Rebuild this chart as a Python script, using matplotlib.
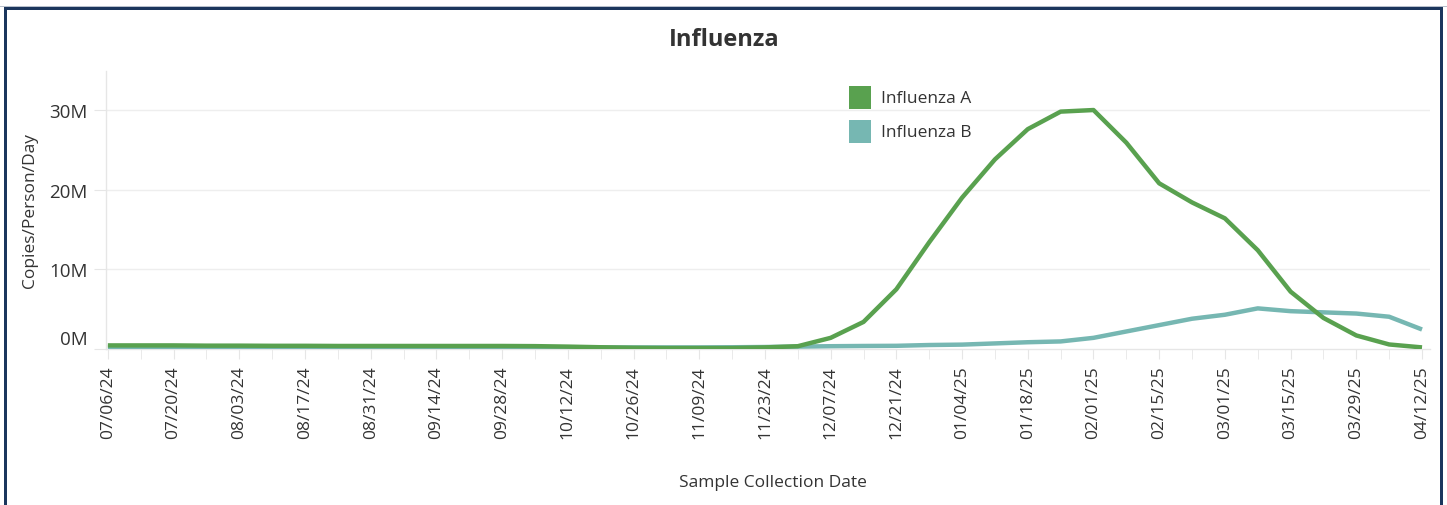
import matplotlib.pyplot as plt
import matplotlib.dates as mdates
import matplotlib.transforms as mtransforms
from matplotlib.patches import Rectangle
import pandas as pd

plt.rcParams['font.family'] = ['Open Sans', 'DejaVu Sans']

# weekly sample dates, 07/06/24 .. 04/12/25
weeks = pd.date_range('2024-07-06', '2025-04-12', freq='7D')

# copies/person/day, in millions
flu_a = [0.45, 0.45, 0.45, 0.42, 0.42, 0.40, 0.40, 0.38, 0.38, 0.38,
         0.38, 0.38, 0.38, 0.36, 0.30, 0.22, 0.15, 0.12, 0.12, 0.12,
         0.20, 0.35, 1.4, 3.4, 7.5, 13.4, 19.0, 23.8, 27.6, 29.8,
         30.0, 25.9, 20.8, 18.4, 16.4, 12.4, 7.2, 3.9, 1.7, 0.57, 0.2]
flu_b = [0.25, 0.25, 0.25, 0.25, 0.25, 0.25, 0.25, 0.25, 0.25, 0.25,
         0.25, 0.25, 0.25, 0.22, 0.2, 0.2, 0.2, 0.2, 0.2, 0.22,
         0.25, 0.3, 0.35, 0.38, 0.40, 0.50, 0.55, 0.70, 0.85, 0.95,
         1.4, 2.2, 3.0, 3.8, 4.3, 5.1, 4.75, 4.6, 4.45, 4.05, 2.45]

series_names = ['Influenza A', 'Influenza B']
series_colors = ['#59a14f', '#76b7b2']
ytick_vals = [0, 10, 20, 30]
ytick_labels = ['0M', '10M', '20M', '30M']

W, H = 1447, 506
fig = plt.figure(figsize=(W / 100, H / 100), dpi=100)
ax = fig.add_axes([106 / W, 1 - 350 / H, (1430 - 106) / W, (350 - 72) / H])

txt = '#333333'
light = '#e6e6e6'

ax.plot(weeks, flu_b, color=series_colors[1], lw=3.2, zorder=3,
        solid_capstyle='butt')
ax.plot(weeks, flu_a, color=series_colors[0], lw=3.2, zorder=4,
        solid_capstyle='butt')

ax.set_xlim(weeks[0] - pd.Timedelta(days=0.4), weeks[-1] + pd.Timedelta(days=1.7))
ax.set_ylim(0, 34.9)

ax.set_xticks(weeks[::2])
ax.set_xticks(weeks, minor=True)
ax.xaxis.set_major_formatter(mdates.DateFormatter('%m/%d/%y'))
ax.tick_params(axis='x', which='both', length=7, color=light, labelsize=12.5,
               labelcolor=txt, rotation=90, pad=5)

ax.set_yticks(ytick_vals)
ax.set_yticklabels(ytick_labels)
ax.tick_params(axis='y', length=9, color=light, labelsize=13.5, labelcolor=txt, pad=4)
# zero label sits above the axis line
lab0 = ax.get_yticklabels()[0]
lab0.set_transform(lab0.get_transform() +
                   mtransforms.ScaledTranslation(0, 12 / 100, fig.dpi_scale_trans))

for v in ytick_vals[1:]:
    ax.axhline(v, color='#eeeeee', lw=1, zorder=1)

for s in ['top', 'right']:
    ax.spines[s].set_visible(False)
for s in ['left', 'bottom']:
    ax.spines[s].set_color(light)
    ax.spines[s].set_linewidth(1)

ax.set_ylabel('Copies/Person/Day', fontsize=12.5, color=txt, labelpad=8)
fig.text(773 / W, 1 - 483 / H, 'Sample Collection Date', fontsize=12.5,
         color=txt, ha='center', va='center')
fig.text(724 / W, 1 - 40 / H, 'Influenza', fontsize=17, fontweight='bold',
         color=txt, ha='center', va='center')

# legend, colour squares and names
for i, (name, c) in enumerate(zip(series_names, series_colors)):
    top = 87 + i * 34
    fig.add_artist(Rectangle((849 / W, 1 - (top + 23) / H), 22 / W, 23 / H,
                             transform=fig.transFigure, color=c, lw=0))
    fig.text(881 / W, 1 - (top + 12) / H, name, fontsize=12.5, color=txt,
             ha='left', va='center')

# navy frame around the viz
navy = '#1b365d'
fig.add_artist(Rectangle((0, 1 - 8 / H), 1, 1 / H, transform=fig.transFigure,
                         color='#b8c0cc', lw=0))
fig.add_artist(Rectangle((4 / W, 1 - 11 / H), (1443 - 4) / W, 3 / H,
                         transform=fig.transFigure, color=navy, lw=0))
fig.add_artist(Rectangle((4 / W, 0), 3 / W, 1 - 8 / H,
                         transform=fig.transFigure, color=navy, lw=0))
fig.add_artist(Rectangle((1440 / W, 0), 3 / W, 1 - 8 / H,
                         transform=fig.transFigure, color=navy, lw=0))

fig.savefig('out.png', dpi=100)
